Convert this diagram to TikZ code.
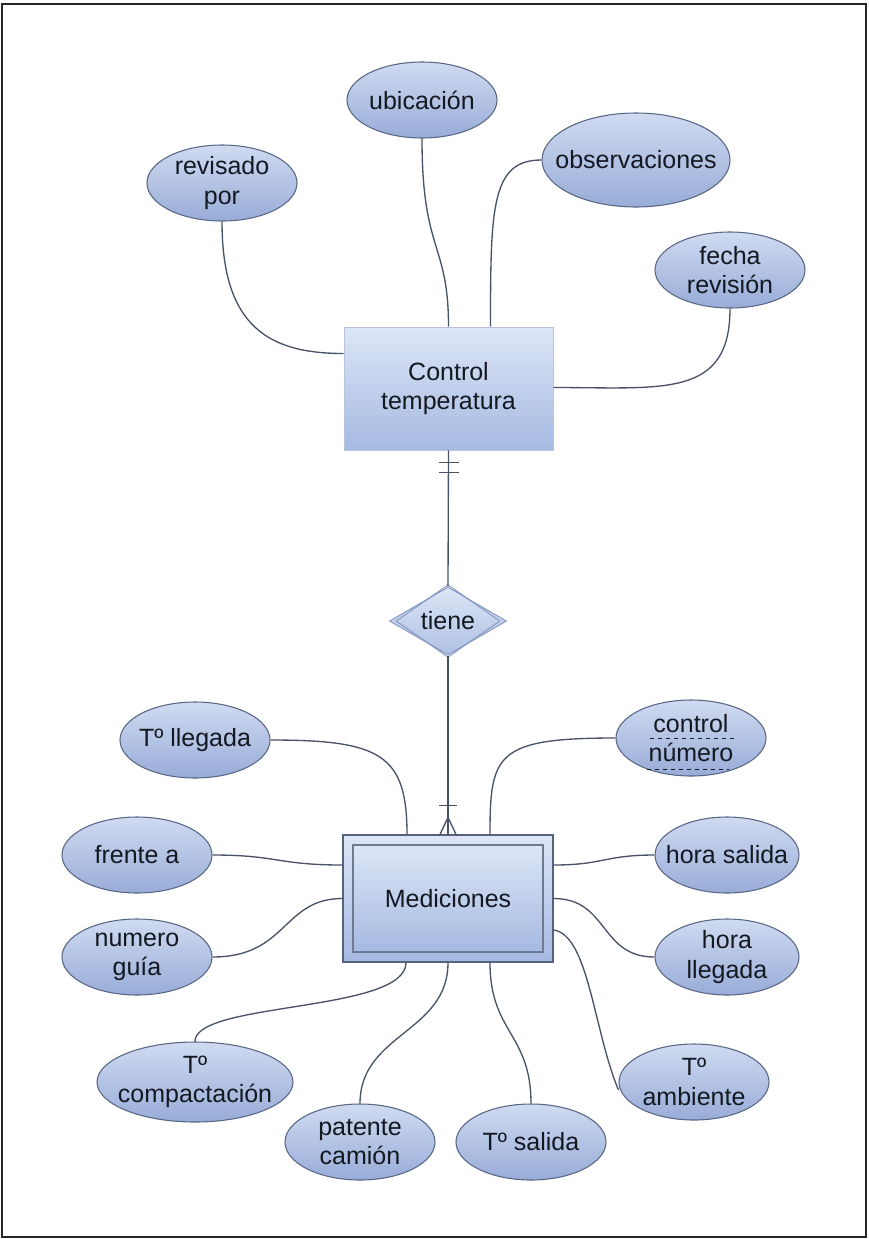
\documentclass[tikz,border=0pt]{standalone}
\usepackage{fontspec}
\setmainfont{Liberation Sans}
\usetikzlibrary{shapes.geometric,calc}
\definecolor{elltop}{HTML}{D0DBF1}
\definecolor{ellbot}{HTML}{98ACD8}
\definecolor{ellborder}{HTML}{5A6784}
\definecolor{boxtop}{HTML}{DDE6F6}
\definecolor{boxbot}{HTML}{A5B9E1}
\definecolor{boxborder}{HTML}{8A9CC4}
\definecolor{medborder}{HTML}{55637F}
\definecolor{linkcol}{HTML}{4A5268}
\definecolor{txt}{HTML}{141820}
\begin{document}
\begin{tikzpicture}[x=0.75pt,y=-0.75pt,
  every node/.style={font=\fontsize{18.75pt}{22pt}\selectfont, text=txt},
  attr/.style={ellipse, draw=ellborder, line width=0.8pt, top color=elltop, bottom color=ellbot,
               inner xsep=-12pt, inner ysep=-4pt, minimum width=112.5pt, minimum height=57pt, align=center},
  entitybox/.style={rectangle, inner sep=0pt, top color=boxtop, bottom color=boxbot, align=center},
  link/.style={draw=linkcol, line width=1pt}]
\useasboundingbox (0,0) rectangle (868,1239);
\draw[line width=1.6pt, draw=black!85] (2,4) rectangle (866,1237);

% entity Control temperatura
\node[entitybox, draw=boxborder!60, line width=0.5pt, minimum width=156.75pt, minimum height=92.25pt] (ct) at (448.5,388.5) {Control\\temperatura};

% attributes of Control temperatura
\node[attr] (ub) at (422,100) {ubicación};
\node[attr] (rp) at (222,183) {revisado\\por};
\node[attr, minimum width=141pt, minimum height=70.5pt] (ob) at (636,160) {observaciones};
\node[attr] (fr) at (730,270) {fecha\\revisión};

\draw[link] (rp.south) .. controls +(0,105) and +(-75,0) .. ($(ct.west)+(0,-35)$);
\draw[link] (ub.south) .. controls +(0,115) and +(0,-85) .. (ct.north);
\draw[link] (ob.west) .. controls +(-50,0) and +(0,-120) .. ($(ct.north)+(42,0)$);
\draw[link] (fr.south) .. controls +(0,90) and +(110,0) .. ($(ct.east)+(0,-1)$);

% relationship
\node[diamond, draw=boxborder, line width=0.8pt, top color=boxtop, bottom color=boxbot!90,
      inner sep=0pt, minimum width=87.75pt, minimum height=51pt] (ti) at (448,621) {};
\node[diamond, draw=boxborder, line width=0.8pt, inner sep=0pt,
      minimum width=78pt, minimum height=45pt] (tiin) at (448,621) {tiene};

% entity Mediciones
\node[entitybox, draw=medborder, line width=0.9pt, minimum width=157.5pt, minimum height=95.25pt] (med) at (448,898.5) {};
\node[entitybox, draw=medborder!85, line width=0.9pt, minimum width=142.5pt, minimum height=80.25pt] (medin) at (448,898.5) {Mediciones};

\draw[link] (ct.south) -- (ti.north);
\draw[link] ($(ct.south)+(-10,12)$) -- ++(20,0);
\draw[link] ($(ct.south)+(-10,22)$) -- ++(20,0);
\draw[link] (ti.south) -- (med.north);
\draw[link] ($(med.north)+(-9,-29)$) -- ++(18,0);
\draw[link] ($(med.north)+(-8,0)$) -- ($(med.north)+(0,-17)$) -- ($(med.north)+(8,0)$);

% attributes of Mediciones
\node[attr] (tl) at (195,740) {Tº llegada};
\node[attr] (fa) at (137,855) {frente a};
\node[attr] (ng) at (137,957) {numero\\guía};
\node[attr, minimum width=147pt, minimum height=60pt] (tc) at (195,1082) {Tº\\compactación};
\node[attr] (pc) at (360,1142) {patente\\camión};
\node[attr] (ts) at (531,1142) {Tº salida};
\node[attr] (ta) at (694,1082) {Tº\\ambiente};
\node[attr, minimum width=108pt] (hl) at (727,957) {hora\\llegada};
\node[attr, minimum width=108pt] (hs) at (727,855) {hora salida};
\node[attr] (cn) at (691,738) {control\\número};
\draw[dashed, line width=0.6pt, txt] ($(cn.center)+(-41,0)$) -- ($(cn.center)+(44,0)$);
\draw[dashed, line width=0.6pt, txt] ($(cn.center)+(-44,31)$) -- ($(cn.center)+(38,31)$);

\draw[link] (tl.east) .. controls +(110,0) and +(0,-80) .. ($(med.north)+(-41,0)$);
\draw[link] (fa.east) .. controls +(65,0) and +(-65,0) .. ($(med.west)+(0,-33.5)$);
\draw[link] (ng.east) .. controls +(75,0) and +(-60,0) .. (med.west);
\draw[link] (cn.west) .. controls +(-120,0) and +(0,-80) .. ($(med.north)+(42,0)$);
\draw[link] ($(med.east)+(0,-33.5)$) .. controls +(50,0) and +(-50,0) .. (hs.west);
\draw[link] (med.east) .. controls +(55,0) and +(-55,0) .. (hl.west);
\draw[link] ($(med.east)+(0,31.5)$) .. controls +(35,5) and +(-25,-60) .. ($(ta.west)+(0,8)$);
\draw[link] ($(med.south)+(-42,0)$) .. controls +(0,50) and +(0,-40) .. (tc.north);
\draw[link] (med.south) .. controls +(0,70) and +(0,-70) .. (pc.north);
\draw[link] ($(med.south)+(42,0)$) .. controls +(0,70) and +(0,-70) .. (ts.north);
\end{tikzpicture}
\end{document}
